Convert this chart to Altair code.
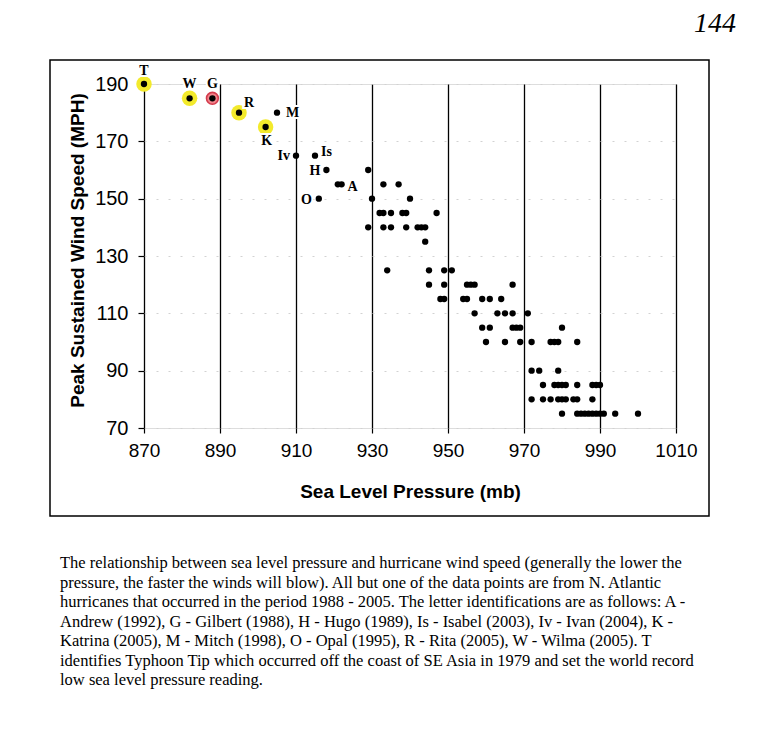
import altair as alt
import pandas as pd

# ---- data ----
PRESSURE = [870, 882, 888, 895, 905, 902, 910, 915, 918, 922, 916,
            929,
            921, 933, 937,
            930, 940,
            932, 933, 935, 938, 939, 947,
            929, 933, 935, 939, 942, 943, 944,
            944,
            934, 945, 949, 951,
            945, 949, 955, 956, 957, 967,
            948, 949, 954, 955, 959, 961, 964,
            957, 963, 965, 967, 971,
            959, 961, 967, 968, 969, 980,
            960, 965, 969, 972, 977, 978, 979, 984,
            972, 974, 979,
            975, 978, 979, 980, 981, 984, 988, 989, 990,
            972, 975, 977, 979, 980, 981, 983, 984, 988,
            980, 984, 985, 986, 987, 988, 989, 990, 991, 994, 1000]
WIND = [190, 185, 185, 180, 180, 175, 165, 165, 160, 155, 150,
        160,
        155, 155, 155,
        150, 150,
        145, 145, 145, 145, 145, 145,
        140, 140, 140, 140, 140, 140, 140,
        135,
        125, 125, 125, 125,
        120, 120, 120, 120, 120, 120,
        115, 115, 115, 115, 115, 115, 115,
        110, 110, 110, 110, 110,
        105, 105, 105, 105, 105, 105,
        100, 100, 100, 100, 100, 100, 100, 100,
        90, 90, 90,
        85, 85, 85, 85, 85, 85, 85, 85, 85,
        80, 80, 80, 80, 80, 80, 80, 80, 80,
        75, 75, 75, 75, 75, 75, 75, 75, 75, 75, 75]
LABELS = ["T", "W", "G", "R", "M", "K", "Iv", "Is", "H", "A", "O"]
YELLOW = ["T", "W", "R", "K"]
RED = ["G"]
X_TICKS = [870, 890, 910, 930, 950, 970, 990, 1010]
Y_TICKS = [70, 90, 110, 130, 150, 170, 190]
CAPTION = [
    "The relationship between sea level pressure and hurricane wind speed (generally the lower the",
    "pressure, the faster the winds will blow).  All but one of the data points are from N. Atlantic",
    "hurricanes that occurred in the period 1988 - 2005.  The letter identifications are as follows: A -",
    "Andrew (1992), G - Gilbert (1988), H - Hugo (1989), Is - Isabel (2003), Iv - Ivan (2004), K -",
    "Katrina (2005), M - Mitch (1998), O - Opal (1995), R - Rita (2005), W - Wilma (2005).  T",
    "identifies Typhoon Tip which occurred off the coast of SE Asia in 1979 and set the world record",
    "low sea level pressure reading.",
]
PAGE_NUMBER = "144"

labels_full = LABELS + [""] * (len(PRESSURE) - len(LABELS))
df = pd.DataFrame({"pressure": PRESSURE, "wind": WIND, "label": labels_full})

W, H = 532, 344

xs = alt.Scale(domain=[870, 1010], nice=False, zero=False)
ys = alt.Scale(domain=[70, 190], nice=False, zero=False)

x_enc = alt.X("pressure:Q", scale=xs, axis=alt.Axis(
    values=X_TICKS, format="d", title="Sea Level Pressure (mb)",
    grid=True, gridColor="black", gridWidth=1.3, gridOpacity=1,
    domain=False, ticks=True, tickSize=5, tickColor="black", tickWidth=1.2,
    labelFlush=False, labelOverlap=False,
    labelFont="Liberation Sans", labelFontSize=19, labelColor="black", labelPadding=8,
    titleFont="Liberation Sans", titleFontSize=19, titleFontWeight="bold", titleColor="black",
    titleX=W / 2, titleY=63, titleAlign="center", titleBaseline="middle"))
y_enc = alt.Y("wind:Q", scale=ys, axis=alt.Axis(
    values=Y_TICKS, format="d", title="Peak Sustained Wind Speed (MPH)",
    grid=True, gridColor="#d2d2d2", gridWidth=1, gridDash=[2, 10],
    domain=False, ticks=True, tickSize=6, tickColor="black", tickWidth=1.2,
    labelFlush=False, labelOverlap=False,
    labelFont="Liberation Sans", labelFontSize=20, labelColor="black", labelPadding=10,
    titleFont="Liberation Sans", titleFontSize=19, titleFontWeight="bold", titleColor="black",
    titleAngle=-90, titleX=-67, titleY=H / 2 - 6, titleAlign="center", titleBaseline="middle"))

base = alt.Chart(df).encode(x=x_enc, y=y_enc)

yellow = base.transform_filter(alt.FieldOneOfPredicate(field="label", oneOf=YELLOW)).mark_circle(
    size=240, color="#f3ea2c", opacity=1)
red = base.transform_filter(alt.FieldOneOfPredicate(field="label", oneOf=RED)).mark_circle(
    size=140, fill="#f2848c", stroke="#d43a4c", strokeWidth=1.6, opacity=1, fillOpacity=1)
dots = base.mark_circle(size=40, color="black", opacity=1)

# label placement: (dx, dy, align)
LABEL_STYLE = {
    "T": (0, -13, "center"), "W": (0, -14, "center"), "G": (0, -14, "center"),
    "R": (10, -10, "center"), "M": (9, 0, "left"), "K": (1, 14, "center"),
    "Iv": (-6, 0, "right"), "Is": (6, -4, "left"), "H": (-6, 1, "right"),
    "A": (6, 3, "left"), "O": (-7, 1, "right"),
}
text_layers = []
for lab, (dx, dy, al) in LABEL_STYLE.items():
    sub = base.transform_filter(alt.datum.label == lab)
    text_layers.append(sub.mark_text(dx=dx, dy=dy, align=al, baseline="middle",
                                     font="Liberation Serif", fontWeight="bold", fontSize=14,
                                     stroke="white", strokeWidth=4, color="white").encode(text="label:N"))
    text_layers.append(sub.mark_text(dx=dx, dy=dy, align=al, baseline="middle",
                                     font="Liberation Serif", fontWeight="bold", fontSize=14,
                                     color="black").encode(text="label:N"))

one = alt.Chart(pd.DataFrame({"k": [0]}))
frame = one.mark_rect(fillOpacity=0, stroke="black", strokeWidth=1.5).encode(
    x=alt.value(-94), x2=alt.value(565), y=alt.value(-24), y2=alt.value(432))
page = one.mark_text(text=PAGE_NUMBER, font="Liberation Serif", fontStyle="italic", fontSize=28,
                     align="center", baseline="middle", color="black").encode(
    x=alt.value(571), y=alt.value(-60))
caption = one.mark_text(text=CAPTION, font="Liberation Serif", fontSize=16.5, lineHeight=19.5,
                        align="left", baseline="alphabetic", color="black").encode(
    x=alt.value(-84), y=alt.value(484))

chart = alt.layer(frame, yellow, red, dots, *text_layers, page, caption).properties(
    width=W, height=H,
    padding={"left": 136, "top": 76, "right": 84, "bottom": 290},
    autosize=alt.AutoSizeParams(type="none"),
).configure_view(stroke="black", strokeWidth=1.6).configure(background="white")

chart.save("out.html", embed_options={"renderer": "svg", "actions": False})
